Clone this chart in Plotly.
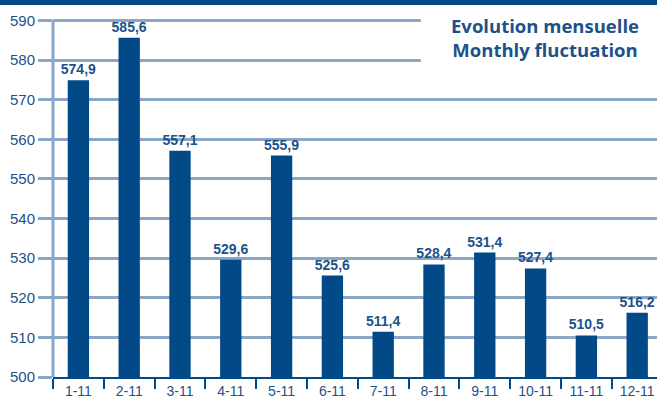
import plotly.graph_objects as go

categories = ["1-11", "2-11", "3-11", "4-11", "5-11", "6-11", "7-11", "8-11", "9-11", "10-11", "11-11", "12-11"]
values = [574.9, 585.6, 557.1, 529.6, 555.9, 525.6, 511.4, 528.4, 531.4, 527.4, 510.5, 516.2]
value_labels = ["574,9", "585,6", "557,1", "529,6", "555,9", "525,6", "511,4", "528,4", "531,4", "527,4", "510,5", "516,2"]
y_ticks = [500, 510, 520, 530, 540, 550, 560, 570, 580, 590]
legend_lines = ["Evolution mensuelle", "Monthly fluctuation"]

BAR = "#024a87"
TXT = "#1d5189"
GRID = "#8aa7c8"

fig = go.Figure()
fig.add_trace(go.Bar(
    x=categories, y=values, marker_color=BAR, marker_line_width=0,
    text=value_labels, textposition="outside", cliponaxis=False, constraintext="none",
    textfont=dict(family="Liberation Sans", size=14, color=TXT, weight="bold"),
    width=0.42,
))

fig.update_layout(
    width=657, height=405,
    margin=dict(l=53, r=0, t=18, b=28, autoexpand=False),
    paper_bgcolor="white", plot_bgcolor="white",
    showlegend=False,
    font=dict(family="Liberation Sans", color=TXT),
    xaxis=dict(
        type="category", range=[-0.5, 11.39], showline=True, linecolor=BAR, linewidth=2,
        ticks="outside", tickson="boundaries", ticklen=10, tickwidth=2, tickcolor=BAR,
        tickfont=dict(size=14, color=TXT), showgrid=False, fixedrange=True, automargin=False,
    ),
    yaxis=dict(
        range=[500, 590.6], tickvals=y_ticks, showgrid=True, gridcolor=GRID, gridwidth=3,
        ticks="outside", ticklen=14, tickwidth=3, tickcolor=GRID,
        tickfont=dict(size=15, color=TXT), zeroline=False, showline=False, fixedrange=True,
        automargin=False,
    ),
)

# top dark band
fig.add_shape(type="rect", xref="paper", yref="paper", x0=-0.1, x1=1.05, y0=1.036, y1=1.1,
              fillcolor=BAR, line_width=0, layer="above")
# y axis line
fig.add_shape(type="line", xref="paper", yref="paper", x0=0, x1=0, y0=0, y1=0.994,
              line=dict(color=GRID, width=3), layer="below")
# white box behind legend text
fig.add_shape(type="rect", xref="paper", yref="paper", x0=0.609, x1=1.01, y0=0.86, y1=1.02,
              fillcolor="white", line_width=0, layer="above")
fig.add_annotation(
    xref="paper", yref="paper", x=0.815, y=1.02, xanchor="center", yanchor="top",
    text="<br>".join(legend_lines), showarrow=False, align="center",
    font=dict(family="Open Sans", size=18.5, color=TXT, weight="bold"),
)

fig.write_html("out.html", config={"displayModeBar": False},
               post_script="document.body.style.margin='0';document.body.style.overflow='hidden';")
